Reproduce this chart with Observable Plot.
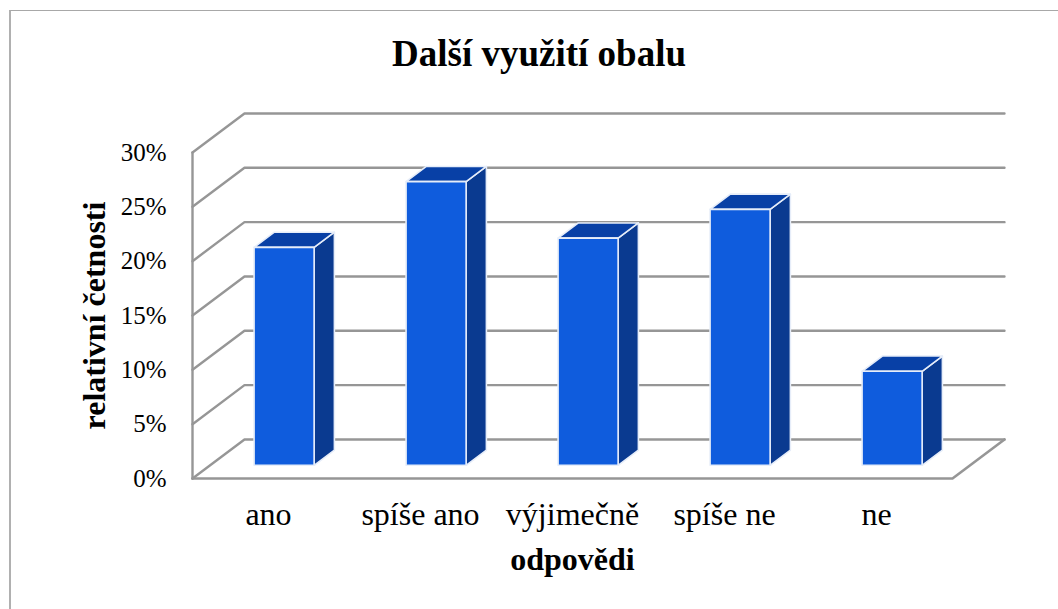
<!DOCTYPE html>
<html lang="cs">
<head>
<meta charset="utf-8">
<script src="https://cdn.jsdelivr.net/npm/d3@7"></script>
<script src="https://cdn.jsdelivr.net/npm/@observablehq/plot@0.6"></script>
<style>
html,body{margin:0;padding:0;background:#fff;}
#wrap{position:relative;width:1058px;height:609px;overflow:hidden;}
#border{position:absolute;left:9px;top:10px;width:1060px;height:610px;border-left:2px solid #b0b0b0;border-top:1px solid #a8a8a8;}
#title{position:absolute;left:0;width:1078px;top:32px;text-align:center;font:bold 37px "Liberation Serif",serif;color:#000;line-height:44px;}
#chart{position:absolute;left:0;top:0;}
svg{display:block;}
</style>
</head>
<body>
<div id="wrap">
<div id="border"></div>
<div id="chart"></div>
<div id="title">Další využití obalu</div>
</div>
<script>
const categories = ["ano", "spíše ano", "výjimečně", "spíše ne", "ne"];
const values = [20.05, 26.1, 20.9, 23.55, 8.65];
const yTicks = [0, 5, 10, 15, 20, 25, 30];

// Oblique depth of the chart box, in data units
const depthX = 0.342, depthY = 3.59;
const barWidth = 0.395, barFront = 0.3, barBack = 0.69, barLift = 0.14;
const project = (cat, pct, z) => ({x: cat + z * depthX, y: pct + z * depthY});

const gridColor = "#969696";
const gridRows = yTicks.flatMap(v => [
  {id: v, ...project(0, v, 0)},
  {id: v, ...project(0, v, 1)},
  {id: v, ...project(categories.length, v, 1)}
]);
const floorEdge = [
  project(0, 0, 0),
  project(categories.length, 0, 0),
  project(categories.length, 0, 1)
];
const wallEdge = [project(0, 0, 0), project(0, 30, 0)];

const face = (kind, i, value) => {
  const l = i + 0.5 - barWidth / 2, r = i + 0.5 + barWidth / 2;
  const f = barFront, b = barBack;
  const v = value + barLift, base = barLift;
  const corners = {
    front: [[l, v, f], [r, v, f], [r, base, f], [l, base, f]],
    side:  [[r, v, f], [r, v, b], [r, base, b], [r, base, f]],
    top:   [[l, v, f], [l, v, b], [r, v, b], [r, v, f]]
  }[kind];
  return corners.map(c => ({id: kind + i, ...project(...c)}));
};
const facesOf = kind => values.flatMap((v, i) => face(kind, i, v));
const barEdge = "#e6edf9";

const plot = Plot.plot({
  width: 1058,
  height: 609,
  marginLeft: 192,
  marginRight: 106,
  marginTop: 152,
  marginBottom: 131,
  x: {domain: [0, categories.length]},
  y: {domain: [0, 30]},
  style: {fontFamily: "'Liberation Serif', serif", color: "#000", background: "transparent", overflow: "visible"},
  marks: [
    Plot.line(gridRows, {x: "x", y: "y", z: "id", stroke: gridColor, strokeWidth: 2.4, curve: "linear"}),
    Plot.line(floorEdge, {x: "x", y: "y", stroke: gridColor, strokeWidth: 2.6}),
    Plot.line(wallEdge, {x: "x", y: "y", stroke: gridColor, strokeWidth: 2.4}),
    Plot.line(facesOf("side"), {x: "x", y: "y", z: "id", fill: "#0a3a90", stroke: barEdge, strokeWidth: 1.6, curve: "linear-closed"}),
    Plot.line(facesOf("top"), {x: "x", y: "y", z: "id", fill: "#0840a6", stroke: barEdge, strokeWidth: 1.6, curve: "linear-closed"}),
    Plot.line(facesOf("front"), {x: "x", y: "y", z: "id", fill: "#0f5cdd", stroke: barEdge, strokeWidth: 1.6, curve: "linear-closed"}),
    Plot.axisY({ticks: yTicks, tickSize: 0, tickPadding: 26, label: null, tickFormat: d => d + "%", fontSize: 25}),
    Plot.axisX({ticks: categories.map((_, i) => i + 0.5), tickSize: 0, tickPadding: 24, label: null,
      tickFormat: d => categories[Math.floor(d)], fontSize: 32}),
    Plot.text(["relativní četnosti"], {frameAnchor: "left", textAnchor: "middle", dx: -98, rotate: -90, fontWeight: "bold", fontSize: 32, fill: "#000"}),
    Plot.text(["odpovědi"], {frameAnchor: "bottom", dy: 91, fontWeight: "bold", fontSize: 32, fill: "#000"})
  ]
});
document.getElementById("chart").appendChild(plot);
</script>
</body>
</html>
